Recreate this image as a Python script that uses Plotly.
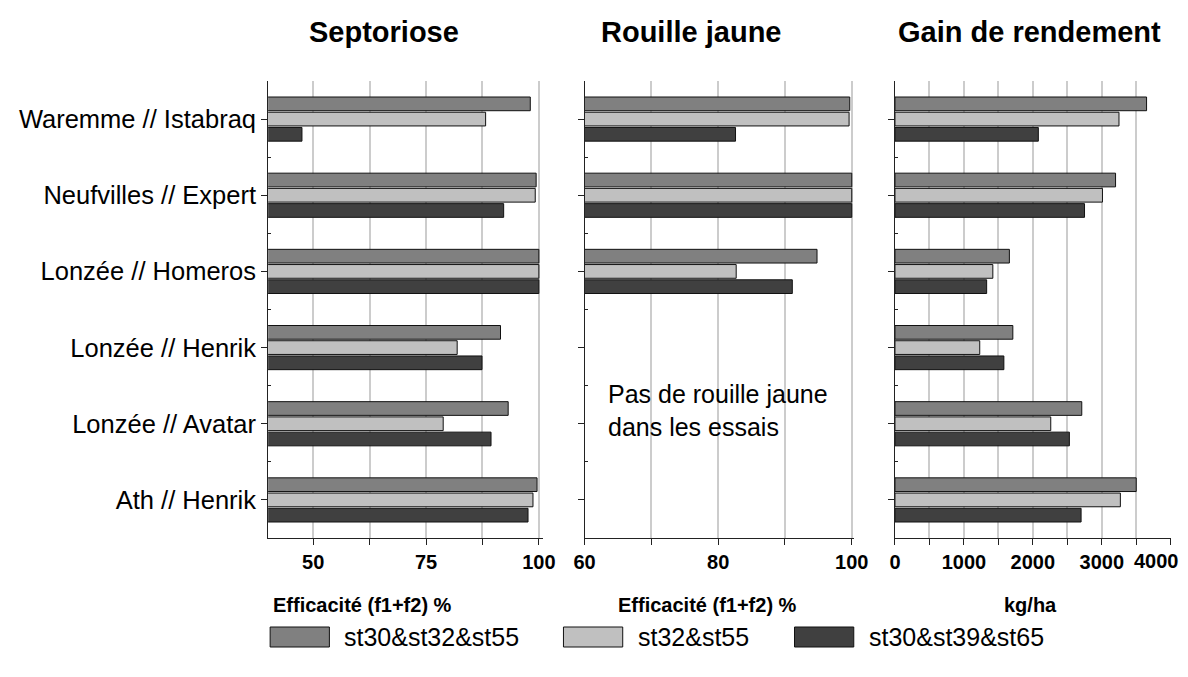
import plotly.graph_objects as go

W, H = 1188, 677
OFF_Y = 8            # vertical offset of the rendered page
SX, OX = 0.9737, 18  # observed horizontal mapping of the rendered page

sites = ["Waremme // Istabraq", "Neufvilles // Expert", "Lonzée // Homeros",
         "Lonzée // Henrik", "Lonzée // Avatar", "Ath // Henrik"]
series_names = ["st30&st32&st55", "st32&st55", "st30&st39&st65"]
series_colors = ["#808080", "#c0c0c0", "#404040"]

# Septoriose efficacy (%)
sept_a = [98.1, 99.4, 100, 91.5, 93.2, 99.6]
sept_b = [88.2, 99.2, 100, 81.9, 78.8, 98.7]
sept_c = [47.5, 92.2, 100, 87.4, 89.4, 97.6]
# Rouille jaune efficacy (%)
rj_a = [99.7, 100, 94.8, None, None, None]
rj_b = [99.6, 100, 82.7, None, None, None]
rj_c = [82.6, 100, 91.1, None, None, None]
# Gain de rendement (kg/ha)
gain_a = [3650, 3200, 1660, 1710, 2710, 3500]
gain_b = [3250, 3010, 1420, 1230, 2260, 3270]
gain_c = [2080, 2750, 1330, 1580, 2530, 2700]

panel_titles = ["Septoriose", "Rouille jaune", "Gain de rendement"]
axis_titles = ["Efficacité (f1+f2) %", "Efficacité (f1+f2) %", "kg/ha"]
sept_ticks = [50, 62.5, 75, 87.5, 100]
sept_ticktext = ["50", "", "75", "", "100"]
rj_ticks = [60, 70, 80, 90, 100]
rj_ticktext = ["60", "", "80", "", "100"]
gain_ticks = [0, 500, 1000, 1500, 2000, 2500, 3000, 3500, 4000]
gain_ticktext = ["0", "", "1000", "", "2000", "", "3000", "", ""]
gain_last_label = "4000"   # drawn as annotation so it is not hidden at the page edge
note_text = "Pas de rouille jaune<br>dans les essais"

FONT = "Liberation Sans, Arial, sans-serif"

def px_x(p):
    return ((p - OX) / SX) / W

def px_y(p):
    return 1 - (p - OFF_Y) / H

y_pos = list(range(len(sites)))

fig = go.Figure()
panels = [
    ([sept_a, sept_b, sept_c], "x", "y"),
    ([rj_a, rj_b, rj_c], "x2", "y2"),
    ([gain_a, gain_b, gain_c], "x3", "y3"),
]
for data, xa, ya in panels:
    for name, col, vals in zip(series_names, series_colors, data):
        fig.add_trace(go.Bar(
            x=vals, y=y_pos, orientation="h", name=name,
            marker=dict(color=col, line=dict(color="#111111", width=1)),
            xaxis=xa, yaxis=ya, showlegend=False,
        ))

domains = [(266, 540), (581, 849), (890, 1164.5)]
ranges = [[40, 101], [60, 100.3], [0, 4000]]
tvals = [sept_ticks, rj_ticks, gain_ticks]
ttext = [sept_ticktext, rj_ticktext, gain_ticktext]
ydom = [px_y(538), px_y(81)]

layout = dict(
    width=W, height=H,
    margin=dict(l=0, r=0, t=0, b=0),
    paper_bgcolor="white", plot_bgcolor="white",
    font=dict(family=FONT, color="black"),
    barmode="group", bargap=0.4, bargroupgap=0.1,
)
for i in range(3):
    sfx = "" if i == 0 else str(i + 1)
    layout["xaxis" + sfx] = dict(
        domain=[px_x(domains[i][0]), min(1.0, px_x(domains[i][1]))],
        range=ranges[i], tickmode="array", tickvals=tvals[i], ticktext=ttext[i],
        showgrid=True, gridcolor="#cccccc", gridwidth=1.5,
        showline=True, linecolor="#222222", linewidth=1,
        ticks="outside", ticklen=6, tickcolor="#222222",
        tickfont=dict(size=20, weight="bold", family=FONT),
        zeroline=False, anchor="y" + sfx,
    )
    layout["yaxis" + sfx] = dict(
        domain=ydom, range=[len(sites) - 0.5, -0.5],
        tickmode="array", tickvals=y_pos, ticktext=sites,
        showticklabels=(i == 0),
        tickfont=dict(size=25.5, family=FONT),
        showgrid=False, zeroline=False,
        showline=True, linecolor="#222222", linewidth=1,
        ticks="outside", ticklen=6, tickcolor="#222222",
        minor=dict(tickmode="array", tickvals=[p + 0.5 for p in y_pos[:-1]],
                   ticks="inside", ticklen=3, tickcolor="#222222"),
        anchor="x" + sfx,
    )

centers_title = [381, 687, 1024]
centers_axis = [360, 703, 1025]
annotations = []
for t, c in zip(panel_titles, centers_title):
    annotations.append(dict(text=t, x=px_x(c), y=px_y(32), xref="paper", yref="paper",
                            showarrow=False, xanchor="center", yanchor="middle",
                            font=dict(size=29, weight="bold", family=FONT)))
for t, c in zip(axis_titles, centers_axis):
    annotations.append(dict(text=t, x=px_x(c), y=px_y(605), xref="paper", yref="paper",
                            showarrow=False, xanchor="center", yanchor="middle",
                            font=dict(size=20, weight="bold", family=FONT)))
annotations.append(dict(text=gain_last_label, x=1.0, y=px_y(561), xref="paper", yref="paper",
                        showarrow=False, xanchor="right", yanchor="middle",
                        font=dict(size=20, weight="bold", family=FONT)))
annotations.append(dict(text=note_text, x=px_x(602), y=px_y(410), xref="paper", yref="paper",
                        showarrow=False, xanchor="left", yanchor="middle", align="left",
                        font=dict(size=25, family=FONT)))

# legend (drawn manually for wide swatches)
shapes = []
leg_box_x = [268, 560, 790]
for name, col, bx in zip(series_names, series_colors, leg_box_x):
    shapes.append(dict(type="rect", xref="paper", yref="paper",
                       x0=px_x(bx), x1=px_x(bx + 59), y0=px_y(647), y1=px_y(627),
                       fillcolor=col, line=dict(color="#111111", width=1)))
    annotations.append(dict(text=name, x=px_x(bx + 72), y=px_y(637), xref="paper", yref="paper",
                            showarrow=False, xanchor="left", yanchor="middle",
                            font=dict(size=25, family=FONT)))

layout["annotations"] = annotations
layout["shapes"] = shapes
fig.update_layout(**layout)
fig.write_html("out.html")
